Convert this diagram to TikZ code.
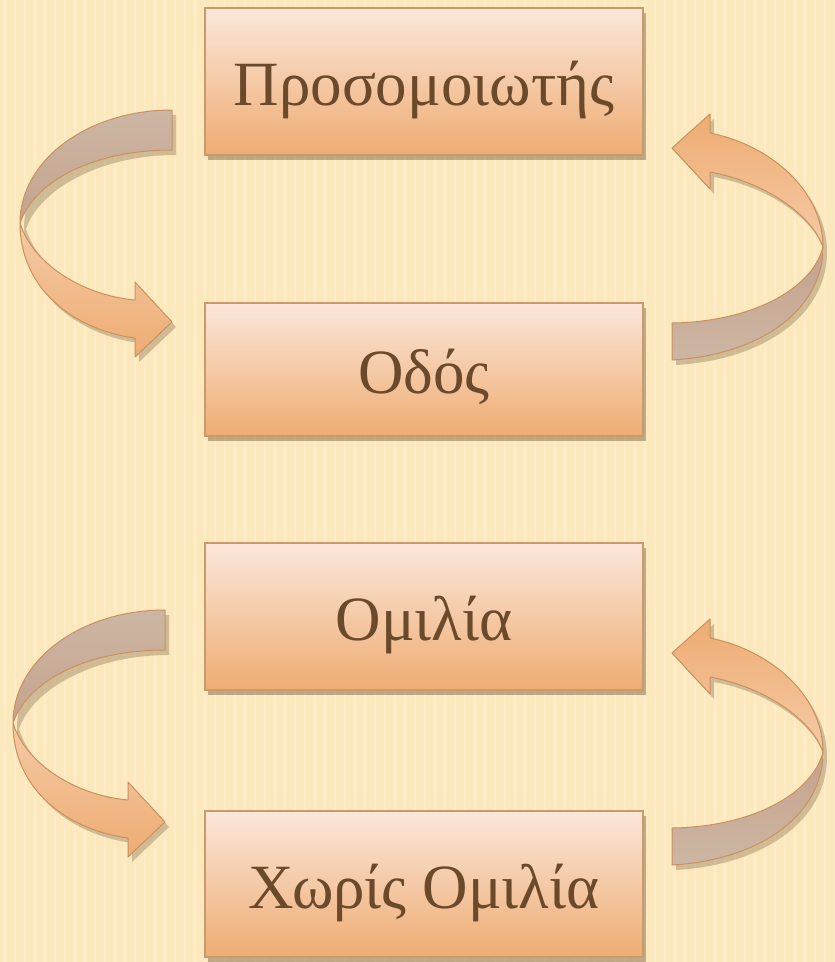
\documentclass[tikz,border=0pt]{standalone}
\usepackage{fontspec}
\setmainfont{Liberation Serif}
\usetikzlibrary{shadows}
\definecolor{bg}{HTML}{FCE8BD}
\definecolor{stripe}{HTML}{FFF4DC}
\definecolor{boxtop}{HTML}{FBE7DB}
\definecolor{boxbot}{HTML}{EEAC72}
\definecolor{boxline}{HTML}{C99A6A}
\definecolor{txt}{HTML}{6B4A2B}
\definecolor{orgA}{HTML}{F5CAA6}
\definecolor{orgB}{HTML}{EEAC72}
\definecolor{gryA}{HTML}{CDB6A4}
\definecolor{gryB}{HTML}{C5A38C}
\definecolor{arrline}{HTML}{C8925F}
\begin{document}
\begin{tikzpicture}[x=1pt,y=-1pt,
  box/.style={draw=boxline, line width=1.2pt, top color=boxtop, bottom color=boxbot,
    minimum width=438pt, inner sep=0pt, text=txt,
    font=\fontsize{63}{75}\selectfont, text height=54pt, text depth=6pt,
    drop shadow={shadow xshift=3pt, shadow yshift=-5pt, opacity=0.35, fill=black!60!brown}},
  rib/.style={draw=arrline, line width=1pt, line join=round},
  ribshadow/.style={drop shadow={shadow xshift=4pt, shadow yshift=-5pt, opacity=0.25, fill=black!60!brown}}]
\fill[bg] (0,0) rectangle (835,962);
\useasboundingbox (0,0) rectangle (835,962);
\foreach \i in {0,10,...,830} {\fill[stripe,opacity=0.35] (\i+4,0) rectangle (\i+6,962);}

% boxes
\node[box, minimum height=147pt] (sim) at (424,81.5) {Προσομοιωτής};
\node[box, minimum height=133pt] (road) at (424,369.5) {Οδός};
\node[box, minimum height=147pt] (speech) at (424,616.5) {Ομιλία};
\node[box, minimum height=146pt] (nospeech) at (424,884) {Χωρίς Ομιλία};

% left ribbon arrows
\foreach \dx/\dy in {0/0,-7/500} {
\begin{scope}[shift={(\dx,\dy)}]
  \path[ribshadow] (172,110) .. controls (88,110) and (20,160) .. (20,223)
     .. controls (20,290) and (75,330) .. (135,338) -- (135,357) -- (172,322) -- (135,282) -- (135,300)
     .. controls (80,295) and (35,265) .. (22,224) .. controls (35,185) and (95,150) .. (172,150) -- cycle;
  \path[rib, top color=gryA, bottom color=gryB]
     (172,110) .. controls (88,110) and (20,160) .. (20,223)
     .. controls (35,180) and (95,150) .. (172,150) -- cycle;
  \path[rib, top color=orgA, bottom color=orgB]
     (20,223) .. controls (20,290) and (75,330) .. (135,338) -- (135,357) -- (172,322) -- (135,282) -- (135,300)
     .. controls (80,295) and (32,262) .. cycle;
\end{scope}}

% right ribbon arrows
\foreach \dx/\dy in {0/0,0/505} {
\begin{scope}[shift={(\dx,\dy)}]
  \path[ribshadow] (672,148) -- (710,114) -- (710,133) .. controls (770,145) and (823,190) .. (823,247)
     .. controls (823,310) and (760,355) .. (672,360) -- (672,323)
     .. controls (750,322) and (805,295) .. (820,247) .. controls (812,215) and (765,182) .. (710,172) -- (710,189) -- cycle;
  \path[rib, top color=gryB, bottom color=gryA]
     (823,247) .. controls (823,310) and (760,355) .. (672,360) -- (672,323)
     .. controls (750,322) and (812,290) .. cycle;
  \path[rib, top color=orgB, bottom color=orgA]
     (672,148) -- (710,114) -- (710,133) .. controls (770,145) and (823,190) .. (823,247)
     .. controls (812,215) and (765,182) .. (710,172) -- (710,189) -- cycle;
\end{scope}}
\end{tikzpicture}
\end{document}
